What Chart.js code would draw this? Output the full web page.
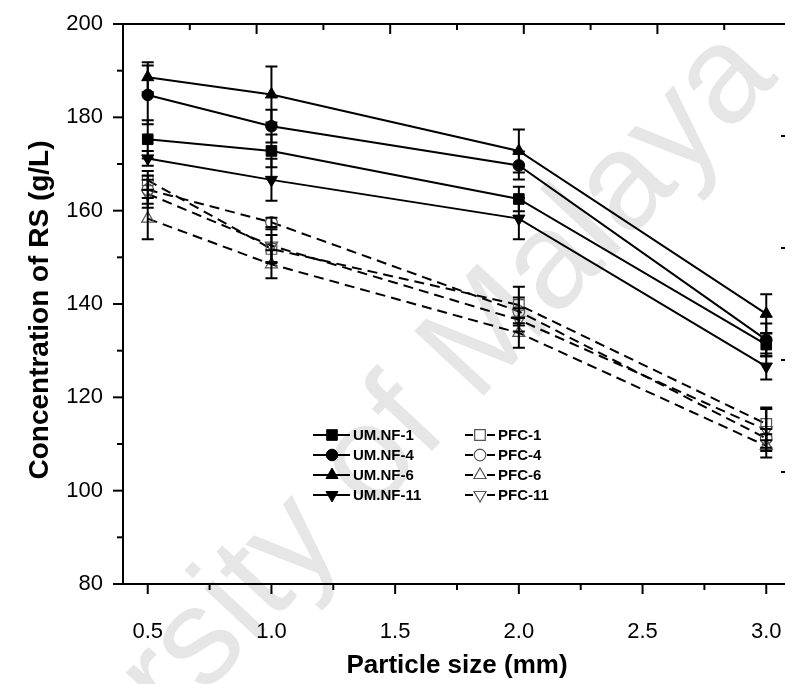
<!DOCTYPE html>
<html>
<head>
<meta charset="utf-8">
<script src="https://cdn.jsdelivr.net/npm/chart.js@4.4.1/dist/chart.umd.min.js"></script>
<style>
  html, body { margin: 0; padding: 0; background: #fff; overflow: hidden; }
  #wrap { width: 800px; height: 684px; }
</style>
</head>
<body>
<div id="wrap"><canvas id="myChart" width="800" height="684"></canvas></div>
<script>
// particle size (mm)
const particleSize = [0.5, 1.0, 2.0, 3.0];

// concentration of RS (g/L)
const umNf1 = [175.3, 172.8, 162.5, 131.3];
const umNf4 = [184.8, 178.1, 169.7, 132.3];
const umNf6 = [188.6, 184.9, 172.8, 137.9];
const umNf11 = [171.2, 166.6, 158.3, 126.6];
const pfc1 = [166.5, 151.8, 139.8, 114.3];
const pfc4 = [164.5, 157.5, 138.4, 111.2];
const pfc6 = [158.3, 148.5, 133.8, 109.6];
const pfc11 = [163.6, 152.5, 136.6, 113.0];

// standard deviation
const errNf1 = [4.1, 3.5, 2.6, 2.5];
const errNf4 = [6.3, 3.5, 3.0, 3.5];
const errNf6 = [3.2, 6.0, 4.6, 4.2];
const errNf11 = [1.6, 4.5, 4.4, 2.8];
const errPfc1 = [2.0, 3.0, 3.9, 3.5];
const errPfc4 = [3.0, 1.0, 3.0, 2.0];
const errPfc6 = [4.4, 3.0, 3.2, 2.5];
const errPfc11 = [3.0, 3.5, 2.5, 4.5];

const yTicks = [80, 100, 120, 140, 160, 180, 200];

const FONT = "'Liberation Sans', Arial, sans-serif";

function series(label, vals, errs, style, open) {
  return {
    label,
    data: particleSize.map((p, i) => ({ x: p, y: vals[i] })),
    errors: errs,
    borderColor: "#000",
    borderWidth: 2,
    borderDash: open ? [10, 6] : [],
    pointStyle: style.shape,
    pointRotation: style.rot || 0,
    pointRadius: style.r,
    pointHoverRadius: style.r,
    pointBackgroundColor: open ? "rgba(0,0,0,0)" : "#000",
    pointBorderColor: open ? "#555" : "#000",
    pointBorderWidth: open ? 1.2 : 1,
    open,
    fill: false,
    tension: 0,
  };
}

const SQ = { shape: "rect", r: 7.5 };
const CI = { shape: "circle", r: 5.8 };
const UP = { shape: "triangle", r: 7 };
const DN = { shape: "triangle", r: 7, rot: 180 };

const datasets = [
  series("UM.NF-1", umNf1, errNf1, SQ, false),
  series("UM.NF-4", umNf4, errNf4, CI, false),
  series("UM.NF-6", umNf6, errNf6, UP, false),
  series("UM.NF-11", umNf11, errNf11, DN, false),
  series("PFC-1", pfc1, errPfc1, SQ, true),
  series("PFC-4", pfc4, errPfc4, CI, true),
  series("PFC-6", pfc6, errPfc6, UP, true),
  series("PFC-11", pfc11, errPfc11, DN, true),
];

// faint diagonal text behind the plot
const watermark = {
  id: "watermark",
  beforeDraw(chart) {
    const { ctx } = chart;
    ctx.save();
    ctx.fillStyle = "#e6e6e6";
    ctx.font = "138px " + FONT;
    ctx.textAlign = "center";
    ctx.textBaseline = "middle";
    ctx.translate(328, 507);
    ctx.rotate((-47 * Math.PI) / 180);
    ctx.fillText("University of Malaya", 0, 0);
    ctx.restore();
  },
};

// vertical error bars with caps
const errorBars = {
  id: "errorBars",
  afterDatasetsDraw(chart) {
    const { ctx, scales: { x, y } } = chart;
    ctx.save();
    ctx.strokeStyle = "#000";
    ctx.lineWidth = 2;
    chart.data.datasets.forEach((ds) => {
      ds.data.forEach((pt, i) => {
        const e = ds.errors[i];
        const px = x.getPixelForValue(pt.x);
        const top = y.getPixelForValue(pt.y + e);
        const bot = y.getPixelForValue(pt.y - e);
        ctx.beginPath();
        ctx.moveTo(px, top);
        ctx.lineTo(px, bot);
        ctx.moveTo(px - 6, top);
        ctx.lineTo(px + 6, top);
        ctx.moveTo(px - 6, bot);
        ctx.lineTo(px + 6, bot);
        ctx.stroke();
      });
    });
    ctx.restore();
  },
};

// frame, major/minor ticks, axis titles and the legend box
function tickMarks(ctx, scale, half, horizontal, edge, dir, skipEnds) {
  const k0 = Math.ceil(scale.min / half - 1e-9);
  for (let k = k0; k * half <= scale.max + 1e-9; k++) {
    const v = k * half;
    if (skipEnds && (Math.abs(v - scale.min) < 1e-9 || Math.abs(v - scale.max) < 1e-9)) continue;
    const len = k % 2 === 0 ? 10 : 6;
    const p = scale.getPixelForValue(v);
    ctx.beginPath();
    if (horizontal) {
      ctx.moveTo(p, edge);
      ctx.lineTo(p, edge + dir * len);
    } else {
      ctx.moveTo(edge, p);
      ctx.lineTo(edge + dir * len, p);
    }
    ctx.stroke();
  }
}

const frame = {
  id: "frame",
  afterDraw(chart) {
    const { ctx, chartArea: a, scales } = chart;
    ctx.save();
    ctx.strokeStyle = "#000";
    ctx.lineWidth = 2;
    ctx.strokeRect(a.left, a.top, a.right - a.left, a.bottom - a.top);
    tickMarks(ctx, scales.x, 0.25, true, a.bottom, 1, false);
    tickMarks(ctx, scales.y, 10, false, a.left, -1, false);
    tickMarks(ctx, scales.x2, 0.5, true, a.top, 1, true);
    tickMarks(ctx, scales.y2, 0.5, false, a.right, -1, true);

    ctx.fillStyle = "#000";
    ctx.textAlign = "center";
    ctx.textBaseline = "middle";
    ctx.font = "bold 26px " + FONT;
    ctx.fillText("Particle size (mm)", (a.left + a.right) / 2, 666);
    ctx.save();
    ctx.font = "bold 28px " + FONT;
    ctx.translate(40, (a.top + a.bottom) / 2 + 6);
    ctx.rotate(-Math.PI / 2);
    ctx.fillText("Concentration of RS (g/L)", 0, 0);
    ctx.restore();

    // legend: two columns of four entries
    ctx.font = "bold 15px " + FONT;
    ctx.textAlign = "left";
    const rows = [435, 455, 475, 495];
    chart.data.datasets.forEach((ds, i) => {
      const col = ds.open ? 1 : 0;
      const yy = rows[i % 4];
      const mx = col ? 480 : 332;
      ctx.strokeStyle = "#000";
      ctx.lineWidth = 2;
      ctx.beginPath();
      if (col) {
        ctx.moveTo(465, yy);
        ctx.lineTo(473, yy);
        ctx.moveTo(487, yy);
        ctx.lineTo(495, yy);
      } else {
        ctx.moveTo(313, yy);
        ctx.lineTo(350, yy);
      }
      ctx.stroke();
      ctx.fillStyle = ds.pointBackgroundColor;
      ctx.strokeStyle = ds.pointBorderColor;
      ctx.lineWidth = ds.pointBorderWidth;
      Chart.helpers.drawPoint(ctx, {
        pointStyle: ds.pointStyle,
        radius: ds.pointRadius,
        rotation: ds.pointRotation,
        borderWidth: ds.pointBorderWidth,
      }, mx, yy);
      ctx.fillStyle = "#000";
      ctx.fillText(ds.label, col ? 498 : 353, yy + 1);
    });
    ctx.restore();
  },
};

function noOverhang(s) {
  s.paddingTop = 0;
  s.paddingBottom = 0;
  s.paddingLeft = 0;
  s.paddingRight = 0;
}

const ctx = document.getElementById("myChart").getContext("2d");

new Chart(ctx, {
  type: "line",
  data: { datasets },
  options: {
    responsive: false,
    animation: false,
    layout: { padding: { top: 24, right: 9, left: 0, bottom: 0 } },
    plugins: {
      legend: { display: false },
      tooltip: { enabled: false },
    },
    scales: {
      x: {
        type: "linear",
        position: "bottom",
        min: 0.4,
        max: 3.1,
        grid: { display: false, drawTicks: false },
        border: { display: false },
        ticks: {
          stepSize: 0.5,
          includeBounds: false,
          padding: 35,
          color: "#000",
          font: { family: FONT, size: 22 },
          callback: (v) => (Math.abs(v * 2 - Math.round(v * 2)) < 1e-9 ? v.toFixed(1) : ""),
        },
        afterFit: (s) => { s.height = 100; noOverhang(s); },
      },
      y: {
        type: "linear",
        position: "left",
        min: 80,
        max: 200,
        grid: { display: false, drawTicks: false },
        border: { display: false },
        afterBuildTicks: (s) => { s.ticks = yTicks.map((v) => ({ value: v })); },
        ticks: {
          padding: 20,
          color: "#000",
          font: { family: FONT, size: 22 },
        },
        afterFit: (s) => { s.width = 123; noOverhang(s); },
      },
      x2: {
        type: "linear",
        position: "top",
        min: 0,
        max: 5,
        grid: { display: false, drawTicks: false },
        border: { display: false },
        ticks: { display: false },
        afterFit: (s) => { s.height = 0; noOverhang(s); },
      },
      y2: {
        type: "linear",
        position: "right",
        min: 0,
        max: 5,
        grid: { display: false, drawTicks: false },
        border: { display: false },
        ticks: { display: false },
        afterFit: (s) => { s.width = 0; noOverhang(s); },
      },
    },
  },
  plugins: [watermark, errorBars, frame],
});
</script>
</body>
</html>
